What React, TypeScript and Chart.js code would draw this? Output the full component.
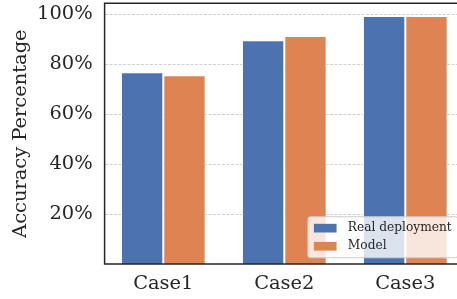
import React, { useEffect, useRef } from 'react';
import { Chart, registerables } from 'chart.js';
Chart.register(...registerables);

const categories = ['Case1', 'Case2', 'Case3'];
const realDeployment = [76.7, 89.5, 99.2];
const model = [75.5, 91.2, 99.2];
const yTicks = [20, 40, 60, 80, 100];
const seriesNames = ['Real deployment', 'Model'];
const colors = ['#4c72b0', '#dd8452'];

const FONT = "'DejaVu Serif', serif";
const TEXT = '#262626';

export default function App() {
  const ref = useRef<HTMLCanvasElement>(null);
  useEffect(() => {
    const canvas = ref.current;
    if (!canvas) return;

    const spines = {
      id: 'spines',
      afterDatasetsDraw(chart: any) {
        const { ctx, chartArea: a } = chart;
        ctx.save();
        ctx.strokeStyle = TEXT;
        ctx.lineWidth = 1.5;
        ctx.beginPath();
        ctx.moveTo(a.right + 2, a.top);
        ctx.lineTo(a.left, a.top);
        ctx.lineTo(a.left, a.bottom);
        ctx.lineTo(a.right + 2, a.bottom);
        ctx.stroke();
        ctx.restore();
      },
    };

    const legendBox = {
      id: 'legendBox',
      afterDraw(chart: any) {
        const { ctx, chartArea: a } = chart;
        const fs = 12.2;
        ctx.save();
        ctx.font = `${fs}px ${FONT}`;
        const ds = chart.data.datasets;
        let tw = 0;
        ds.forEach((d: any) => { tw = Math.max(tw, ctx.measureText(d.label).width); });
        const right = a.right - 6.25;
        const bottom = a.bottom - 6.25;
        const w = tw + 46;
        const h = 41;
        const left = right - w;
        const top = bottom - h;
        ctx.beginPath();
        (ctx as any).roundRect(left, top, w, h, 2.5);
        ctx.fillStyle = 'rgba(255,255,255,0.8)';
        ctx.fill();
        ctx.strokeStyle = '#cccccc';
        ctx.lineWidth = 1;
        ctx.stroke();
        ds.forEach((d: any, i: number) => {
          const cy = top + 11.4 + i * 18.1;
          ctx.fillStyle = d.backgroundColor;
          ctx.fillRect(left + 6, cy - 4.35, 22.7, 8.7);
          ctx.fillStyle = TEXT;
          ctx.textBaseline = 'middle';
          ctx.textAlign = 'left';
          ctx.fillText(d.label, left + 40, cy);
        });
        ctx.restore();
      },
    };

    const chart = new Chart(canvas, {
      type: 'bar',
      data: {
        datasets: [
          {
            label: seriesNames[0],
            data: realDeployment.map((v, i) => ({ x: i, y: v })),
            backgroundColor: colors[0],
            borderColor: '#ffffff',
            borderWidth: 1,
          },
          {
            label: seriesNames[1],
            data: model.map((v, i) => ({ x: i, y: v })),
            backgroundColor: colors[1],
            borderColor: '#ffffff',
            borderWidth: 1,
          },
        ],
      },
      options: {
        responsive: false,
        animation: false,
        devicePixelRatio: 1,
        layout: { padding: { top: 3.3, left: 0, right: 0, bottom: 0 } },
        datasets: { bar: { categoryPercentage: 0.7, barPercentage: 1 } },
        plugins: { legend: { display: false }, tooltip: { enabled: false } },
        scales: {
          x: {
            type: 'linear',
            min: -0.485,
            max: 2.485,
            offset: false,
            grid: { display: false, drawTicks: false, offset: false },
            border: { display: false },
            afterBuildTicks: (scale: any) => {
              scale.ticks = categories.map((_, i) => ({ value: i }));
            },
            afterFit: (scale: any) => {
              scale.height = 35;
              scale.paddingLeft = 0;
              scale.paddingRight = 0;
            },
            ticks: {
              autoSkip: false,
              maxRotation: 0,
              padding: 8,
              color: TEXT,
              font: { family: FONT, size: 19.44 },
              callback: (v: any) => categories[v as number],
            },
          },
          y: {
            type: 'linear',
            min: 0,
            max: 104.3,
            grid: { color: '#d0d0d0', lineWidth: 1, drawTicks: false },
            border: { display: false, dash: [3, 1.5] },
            afterBuildTicks: (scale: any) => {
              scale.ticks = yTicks.map((v) => ({ value: v }));
            },
            afterFit: (scale: any) => {
              scale.width = 104.6;
              scale.paddingTop = 0;
              scale.paddingBottom = 0;
            },
            ticks: {
              padding: 12,
              color: TEXT,
              font: { family: FONT, size: 19.44 },
              callback: (v: any) => `${v}%`,
            },
            title: {
              display: true,
              text: 'Accuracy Percentage',
              color: TEXT,
              font: { family: FONT, size: 19.44 },
              padding: { top: 9.3, bottom: 0 },
            },
          },
        },
      },
      plugins: [spines, legendBox],
    } as any);
    return () => chart.destroy();
  }, []);

  return (
    <div style={{ position: 'fixed', left: 0, top: 0, width: 457, height: 299, overflow: 'hidden', background: '#fff' }}>
      <canvas ref={ref} width={464} height={299} style={{ display: 'block' }} />
    </div>
  );
}
